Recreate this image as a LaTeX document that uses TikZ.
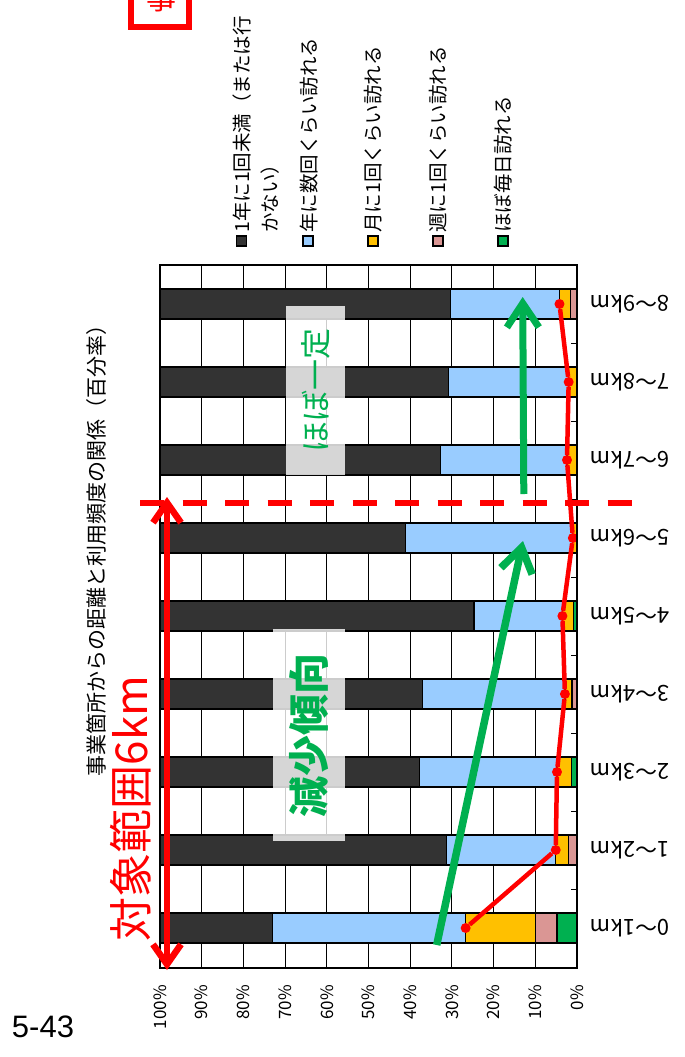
\documentclass[tikz,border=0pt]{standalone}
\usepackage{fontspec}
\setmainfont{Noto Sans CJK JP}
\newfontfamily\pagefont{Liberation Sans}
\usetikzlibrary{arrows.meta}
\definecolor{darkbar}{HTML}{333333}
\definecolor{bluebar}{HTML}{99CCFF}
\definecolor{orangebar}{HTML}{FFC000}
\definecolor{pinkbar}{HTML}{DA9694}
\definecolor{greenbar}{HTML}{00B050}

\begin{document}
\begin{tikzpicture}[x=1pt,y=-1pt,line join=miter,
    seg/.style={draw=black,line width=1.3pt},
    key/.style={draw=black,line width=1.2pt,minimum size=10pt,inner sep=0pt},
    keytext/.style={rotate=90,anchor=west,inner sep=0pt,align=left,font=\fontsize{19.5}{27.5}\selectfont},
    pct/.style={rotate=90,anchor=east,inner sep=0pt,font=\fontsize{17}{17}\selectfont},
    cat/.style={rotate=180,inner sep=0pt,font=\fontsize{22}{22}\selectfont},
    dot/.style={circle,fill=red,inner sep=0pt,minimum size=10pt},
    note/.style={rotate=90,fill=white,fill opacity=0.8,text opacity=1,text=greenbar,inner sep=0pt},
    redarrow/.style={red,line width=6.5pt,{Straight Barb[length=20pt,width=28pt]}-{Straight Barb[length=20pt,width=28pt]}},
    greenarrow/.style={greenbar,line width=7.5pt,-{Straight Barb[length=24pt,width=32pt]}}]

    \path[use as bounding box,fill=white] (0,0) rectangle (685,1057);

    \draw[red,line width=6pt] (131,-10) rectangle (189,27);
    \node[red,font=\fontsize{30}{30}\selectfont] (cut) at (161,-2) {事};

    \node[rotate=90,font=\fontsize{21}{21}\selectfont] (title) at (97,545) {事業箇所からの距離と利用頻度の関係（百分率）};

    \node[key,fill=darkbar] (k1) at (241.7,241) {};
    \node[key,fill=bluebar] (k2) at (308,241) {};
    \node[key,fill=orangebar] (k3) at (373,241) {};
    \node[key,fill=pinkbar] (k4) at (438,241) {};
    \node[key,fill=greenbar] (k5) at (503,241) {};
    \node[keytext] (t1) at (256,233) {1年に1回未満（または行\\かない）};
    \node[keytext] (t2) at (309,233) {年に数回くらい訪れる};
    \node[keytext] (t3) at (373,233) {月に1回くらい訪れる};
    \node[keytext] (t4) at (438,233) {週に1回くらい訪れる};
    \node[keytext] (t5) at (503,233) {ほぼ毎日訪れる};

    \foreach \k in {1,...,9}
        \draw[line width=1pt] (160+41.7*\k,265) -- (160+41.7*\k,968);
    \foreach \k [evaluate=\k as \v using int(100-10*\k)] in {0,...,10}
        \node[pct] (p\k) at (160+41.7*\k,985) {\v\%};

    \foreach \g/\p/\o/\b [count=\i from 0] in {4.8/5.2/16.7/46.4, 0/2.0/3.1/26.2, 1.3/0/3.5/32.9,
        0/1.2/1.7/34.2, 0.8/0/2.7/21.2, 0/0/1.0/40.1, 0/0/2.4/30.3, 0/0/2.0/28.8, 0/1.5/2.7/26.2} {
        \pgfmathsetmacro\yc{928-78*\i}
        \pgfmathsetmacro\xa{577-4.17*\g}
        \pgfmathsetmacro\xb{\xa-4.17*\p}
        \pgfmathsetmacro\xc{\xb-4.17*\o}
        \pgfmathsetmacro\xd{\xc-4.17*\b}
        \draw[seg,fill=darkbar] (160,\yc-15) rectangle (\xd,\yc+15);
        \draw[seg,fill=bluebar] (\xd,\yc-15) rectangle (\xc,\yc+15);
        \draw[seg,fill=orangebar] (\xc,\yc-15) rectangle (\xb,\yc+15);
        \draw[seg,fill=pinkbar] (\xb,\yc-15) rectangle (\xa,\yc+15);
        \draw[seg,fill=greenbar] (\xa,\yc-15) rectangle (577,\yc+15);
        \node[cat] (c\i) at (630,\yc) {\i～\the\numexpr\i+1\relax km};
        \node[dot] (m\i) at (\xc,\yc) {};
    }
    \foreach \k in {1,...,8}
        \draw[line width=1pt] (577,265+78*\k) -- (571,265+78*\k);
    \draw[line width=1.5pt] (160,265) rectangle (577,968);

    \draw[red,line width=4.5pt] (m0) -- (m1) -- (m2) -- (m3) -- (m4) -- (m5) -- (m6) -- (m7) -- (m8);

    \node[note,minimum width=212pt,minimum height=72pt,font=\bfseries\fontsize{41}{41}\selectfont] (dec) at (308.6,735) {減少傾向};
    \node[note,minimum width=169pt,minimum height=59pt,font=\fontsize{31}{31}\selectfont] (flat) at (315.5,390.5) {ほぼ一定};

    \coordinate (a1) at (436.7,945);
    \coordinate (a2) at (523,541);
    \coordinate (b1) at (523.8,494);
    \coordinate (b2) at (522.7,297);
    \draw[greenarrow] (a1) -- (a2);
    \draw[greenarrow,line width=7pt] (b1) -- (b2);

    \coordinate (d1) at (140,503);
    \coordinate (d2) at (631.5,503);
    \draw[red,line width=6pt,dash pattern=on 24pt off 18.5pt] (d1) -- (d2);

    \coordinate (r1) at (167,970);
    \coordinate (r2) at (167,497);
    \draw[redarrow] (r1) -- (r2);
    \node[red,rotate=90,font=\fontsize{44}{44}\selectfont] (range) at (131,808.5) {対象範囲6km};

    \node[font=\pagefont\fontsize{31}{31}\selectfont] (pg) at (43,1027) {5-43};
\end{tikzpicture}
\end{document}
